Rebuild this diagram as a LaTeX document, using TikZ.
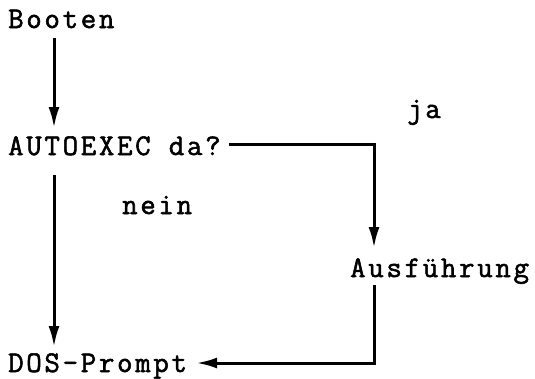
\documentclass[tikz,border=0pt]{standalone}
\usepackage{fontspec}
\newfontfamily\twfont{Latin Modern Mono}[LetterSpace=9,FakeBold=1.8]
\usetikzlibrary{arrows.meta,calc}
\begin{document}
\begin{tikzpicture}[x=1pt,y=-1pt,
  lbl/.style={inner sep=0pt,anchor=base west,font=\twfont\fontsize{30}{32}\selectfont},
  conn/.style={line width=3pt},
  arr/.style={conn,-{Latex[length=21pt,width=11pt]}}]
\useasboundingbox (0,0) rectangle (535,378);
\node[lbl] (boot) at (8,28) {Booten};
\node[lbl] (auto) at (8,155) {AUTOEXEC da?};
\node[lbl] (ja) at (407,118) {ja};
\node[lbl] (nein) at (122,214) {nein};
\node[lbl] (ausf) at (350,277) {Ausführung};
\node[lbl] (dos) at (8,372) {DOS-Prompt};
\draw[arr] ($(boot.base west)+(46,10)$) -- ($(auto.base west)+(46,-27)$);
\draw[arr] ($(auto.base west)+(46,20)$) -- ($(dos.base west)+(46,-25)$);
\draw[arr] ($(auto.base east)+(8,-11)$) -| ($(ausf.base west)+(24,-29)$);
\draw[arr] ($(ausf.base west)+(24,8)$) |- ($(dos.base east)+(9,-9)$);
\end{tikzpicture}
\end{document}
